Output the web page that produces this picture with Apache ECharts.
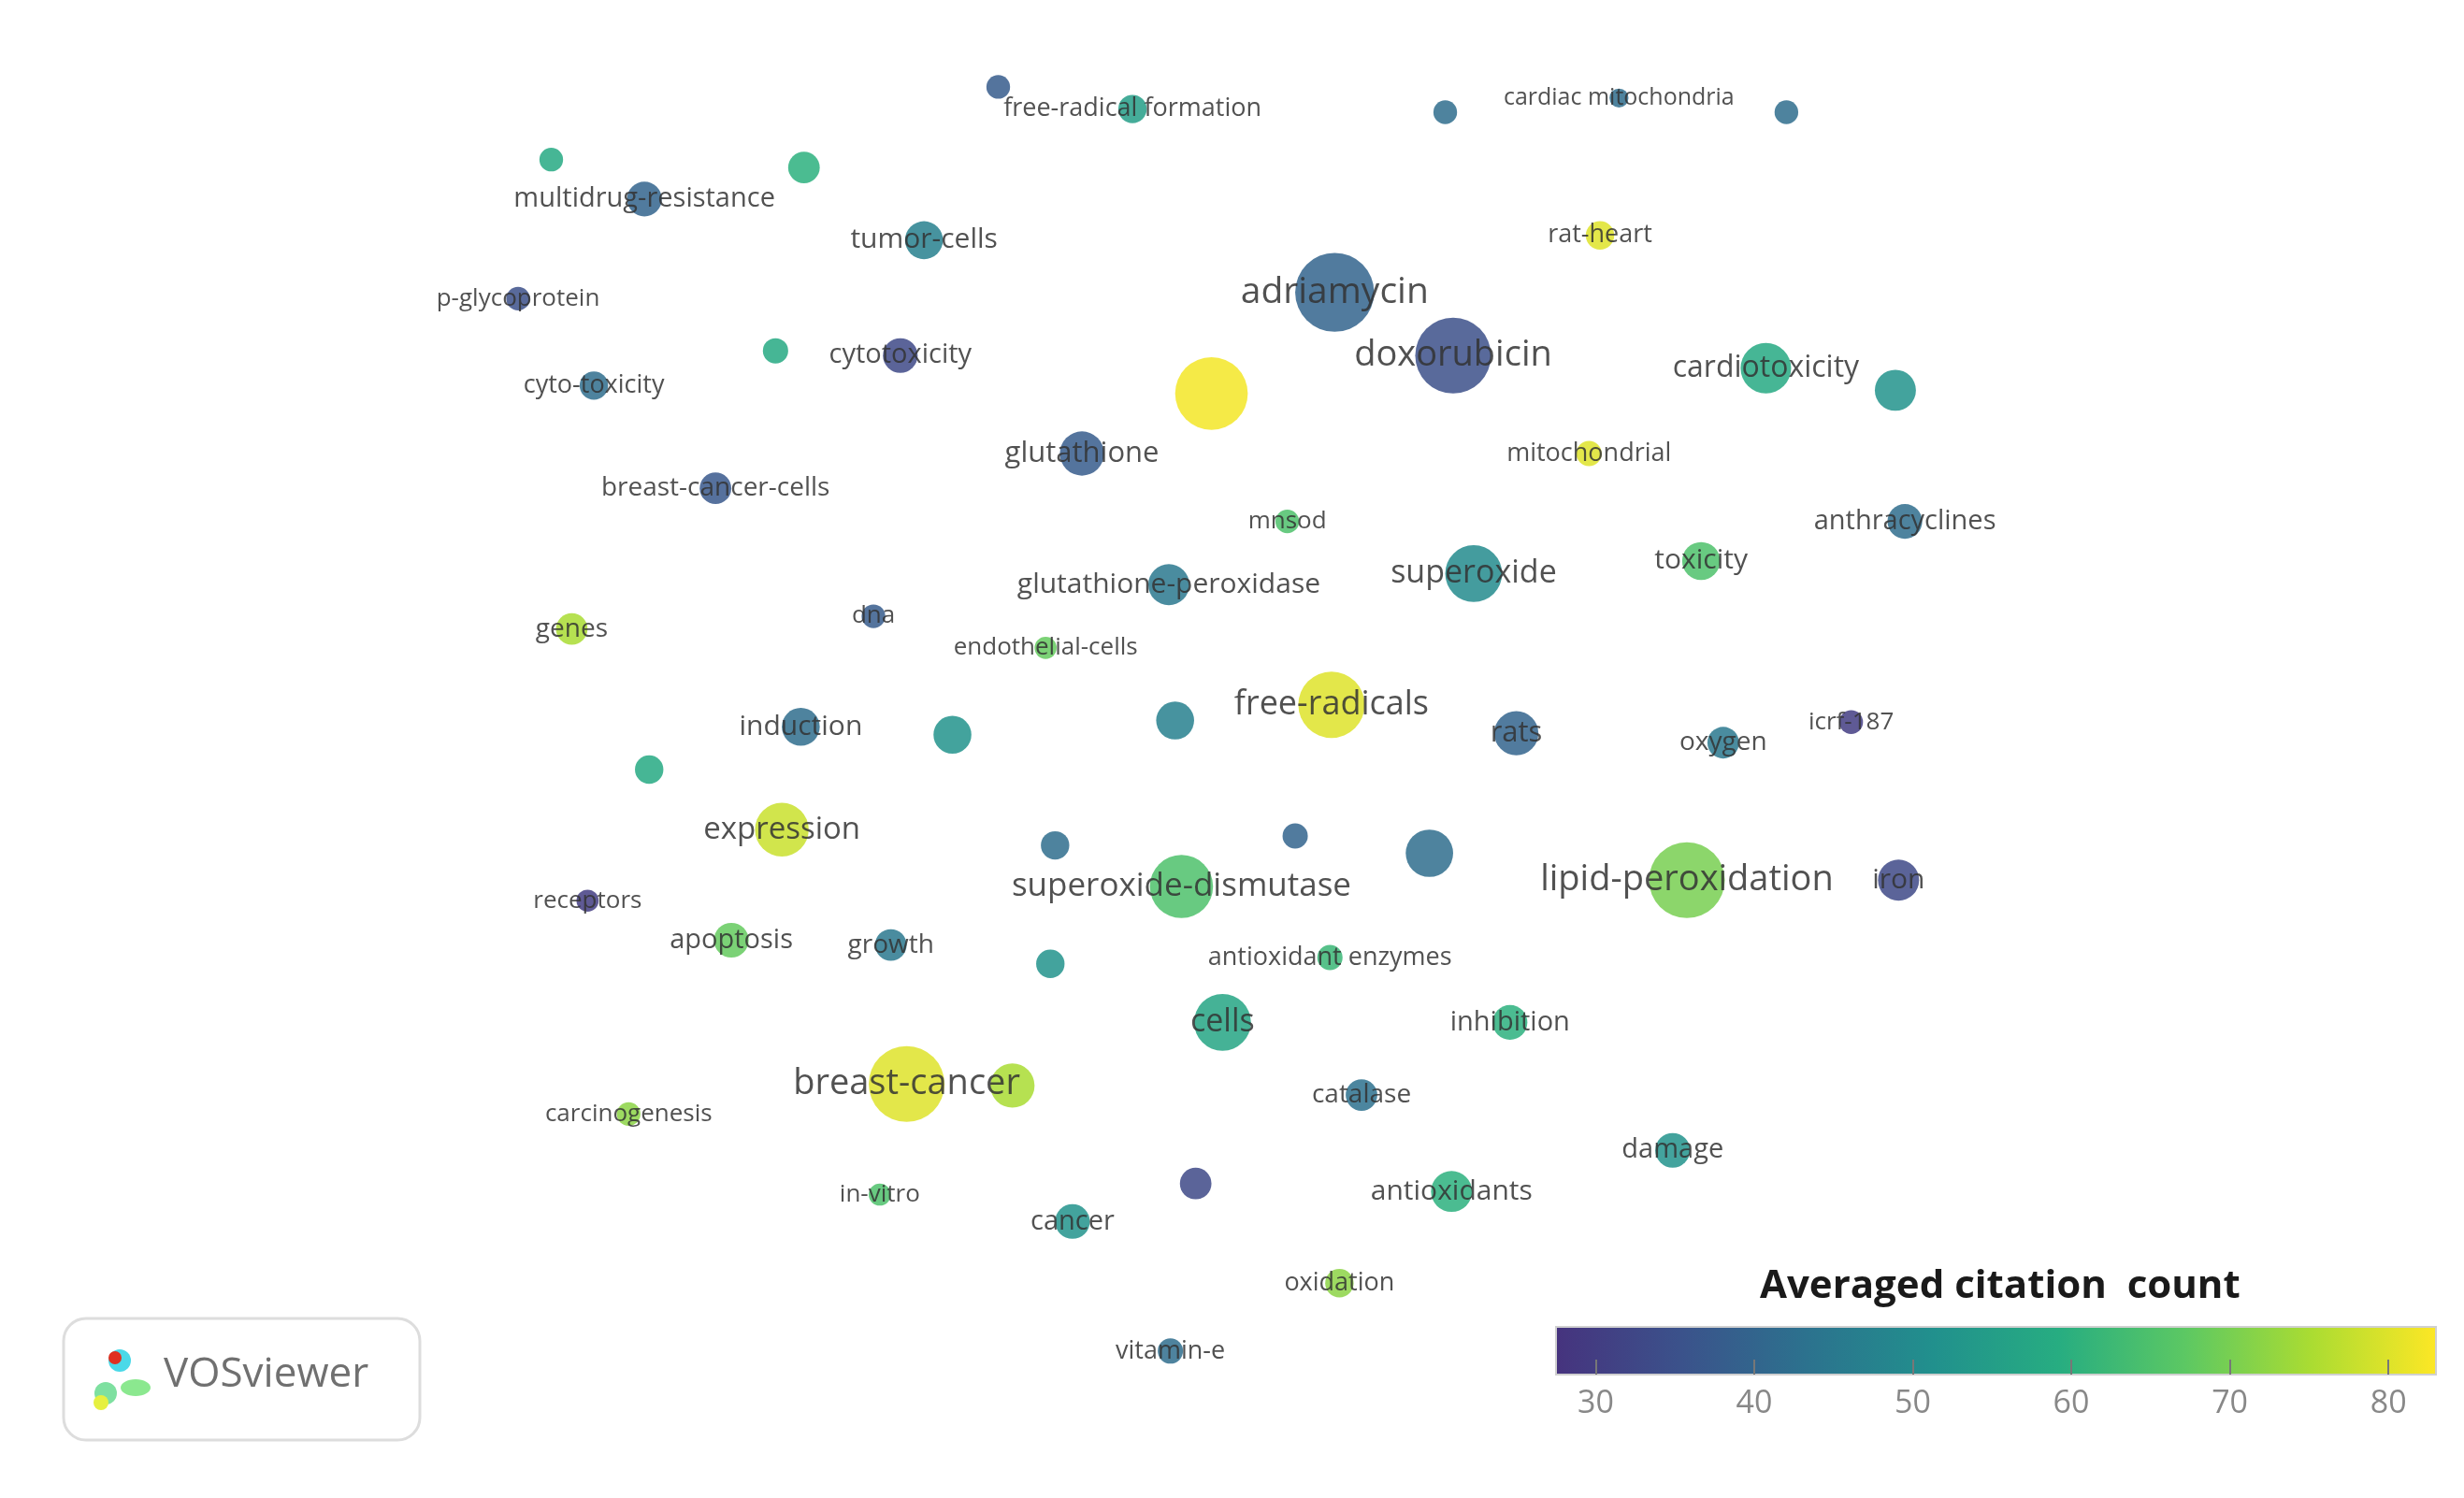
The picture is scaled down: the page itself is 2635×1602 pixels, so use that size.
<!DOCTYPE html>
<html><head><meta charset="utf-8">
<script src="https://cdn.jsdelivr.net/npm/echarts@6/dist/echarts.min.js"></script>
<style>html,body{margin:0;padding:0;background:#fff}#c{width:2635px;height:1602px}</style>
</head><body><div id="c"></div>
<script>
// node labels ('' = unlabeled), layout coordinates, node weight (diameter units), averaged citation count
const labels = ['free-radical formation','','cardiac mitochondria','','','multidrug-resistance','','','tumor-cells','rat-heart','adriamycin','p-glycoprotein','doxorubicin','cytotoxicity','','cyto-toxicity','','cardiotoxicity','','glutathione','mitochondrial','breast-cancer-cells','mnsod','anthracyclines','glutathione-peroxidase','superoxide','toxicity','genes','dna','endothelial-cells','free-radicals','induction','','','rats','oxygen','icrf-187','','expression','','','','superoxide-dismutase','lipid-peroxidation','iron','receptors','apoptosis','growth','','antioxidant enzymes','cells','inhibition','breast-cancer','','carcinogenesis','catalase','damage','in-vitro','','antioxidants','cancer','oxidation','vitamin-e'];
const posX = [717,632,1025,915,1131,408,349,509,585,1013,845,328,920,570,491,376,767,1118,1200,685,1006,453,815,1206,740,933,1077,362,553,662,843,507,603,744,960,1091,1172,411,495,668,820,905,748,1068,1202,372,463,564,665,842,774,956,574,641,398,862,1059,557,757,919,679,848,741];
const posY = [69,55,62,71,71,126,101,106,152,149,185,189,225,225,222,244,249,233,247,287,287,309,330,330,370,363,355,398,390,410,446,460,465,456,464,470,457,487,525,535,529,540,561,557,557,570,595,598,610,606,647,647,686,687,705,693,728,756,749,754,773,812,855];
const weight = [18,15,12,15,15,22,15,20,24,18,50,15,48,22,16,18,46,32,26,28,16,20,15,22,26,36,24,20,15,14,42,24,24,24,28,20,15,18,34,18,16,30,40,48,26,14,22,20,18,16,36,22,48,28,15,20,22,14,20,26,22,18,16];
const citation = [55,38,42,42,42,40,58,60,47,80,40,35,35,33,58,42,82,58,52,38,80,37,65,42,45,50,65,75,38,68,80,42,52,47,40,45,30,58,78,42,40,42,65,70,33,30,68,45,52,62,57,60,80,75,72,43,52,65,33,60,52,72,42];
const colorTicks = [30,40,50,60,70,80];

const S = 2635/1560;
const viridis = ['#46337e','#3b528b','#2c728e','#21908d','#27ad81','#5cc863','#aadc32','#fde725'];
const vmin = 27.5, vmax = 83;
const data = labels.map((l,i)=>({name:l,value:[posX[i],posY[i],weight[i],citation[i]],
  label:{fontSize:Math.round(21+weight[i]*S*0.21)}}));
const chart = echarts.init(document.getElementById('c'));
chart.setOption({
  backgroundColor:'#fff',
  animation:false,
  grid:[{left:0,right:0,top:0,bottom:0},
        {left:1664,right:30,top:1419,height:51,show:true,borderColor:'#d0d0d0',borderWidth:2,
         backgroundColor:new echarts.graphic.LinearGradient(0,0,1,0,viridis.map((c,i)=>({offset:i/(viridis.length-1),color:c})))}],
  xAxis:[{gridIndex:0,type:'value',min:0,max:1560,show:false},
         {gridIndex:1,type:'value',min:vmin,max:vmax,splitLine:{show:false},axisLine:{show:false},
          axisTick:{show:true,inside:true,length:16,lineStyle:{color:'#777',width:2},customValues:colorTicks},
          axisLabel:{color:'#888',fontSize:34,fontFamily:'Open Sans',margin:14,customValues:colorTicks}}],
  yAxis:[{gridIndex:0,type:'value',min:0,max:948,inverse:true,show:false},
         {gridIndex:1,type:'value',min:0,max:1,show:false}],
  visualMap:{show:false,dimension:3,min:vmin,max:vmax,seriesIndex:0,inRange:{color:viridis}},
  series:[{type:'scatter',xAxisIndex:0,yAxisIndex:0,data:data,
    symbolSize:v=>v[2]*S,
    itemStyle:{opacity:0.85},
    label:{show:true,position:'inside',formatter:p=>p.name,color:'#333',fontFamily:'Open Sans'},
    labelLayout:{hideOverlap:false},
    emphasis:{disabled:true}
  }],
  graphic:[
    {type:'text',left:1882,top:1355,style:{text:'Averaged citation  count',font:'bold 42px "Open Sans"',fill:'#1a1a1a'}},
    {type:'rect',shape:{x:68,y:1410,width:381,height:130,r:24},style:{fill:'#fff',stroke:'#ddd',lineWidth:3}},
    {type:'circle',shape:{cx:128,cy:1455,r:12},style:{fill:'#4ad9e8'}},
    {type:'circle',shape:{cx:113,cy:1490,r:12},style:{fill:'#7ee0a0'}},
    {type:'circle',shape:{cx:108,cy:1500,r:8},style:{fill:'#e6f040'}},
    {type:'ellipse',shape:{cx:145,cy:1484,rx:16,ry:9},style:{fill:'#8be88f'}},
    {type:'circle',shape:{cx:123,cy:1452,r:7},style:{fill:'#e03020'}},
    {type:'text',left:175,top:1448,style:{text:'VOSviewer',font:'44px "Open Sans"',fill:'#707070'}}
  ]
});
</script></body></html>
